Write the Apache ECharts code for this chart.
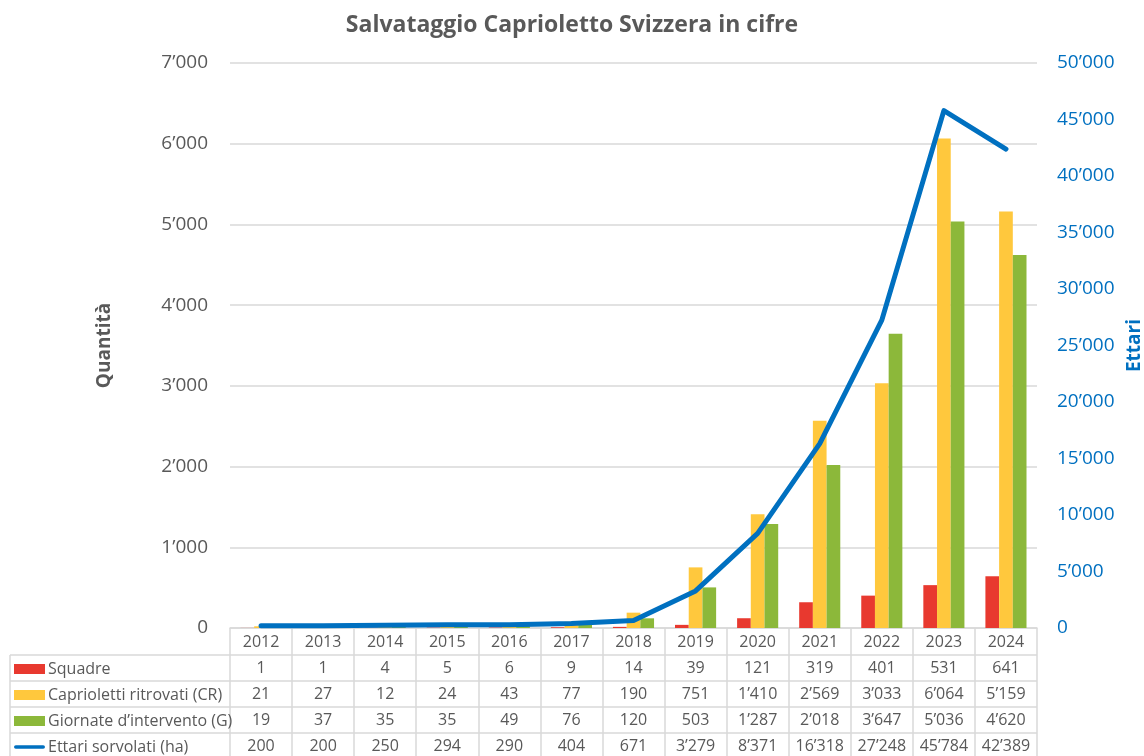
<!DOCTYPE html>
<html>
<head>
<meta charset="utf-8">
<script src="https://cdn.jsdelivr.net/npm/echarts@6/dist/echarts.min.js"></script>
<style>
  html, body { margin: 0; padding: 0; background: #fff; }
  #chart { width: 1144px; height: 756px; }
</style>
</head>
<body>
<div id="chart"></div>
<script>
const years = ['2012', '2013', '2014', '2015', '2016', '2017', '2018', '2019', '2020', '2021', '2022', '2023', '2024'];
const squadre = [1, 1, 4, 5, 6, 9, 14, 39, 121, 319, 401, 531, 641];
const capriolettiCR = [21, 27, 12, 24, 43, 77, 190, 751, 1410, 2569, 3033, 6064, 5159];
const giornateG = [19, 37, 35, 35, 49, 76, 120, 503, 1287, 2018, 3647, 5036, 4620];
const ettari = [200, 200, 250, 294, 290, 404, 671, 3279, 8371, 16318, 27248, 45784, 42389];

const seriesNames = ['Squadre', 'Caprioletti ritrovati (CR)', 'Giornate d’intervento (G)', 'Ettari sorvolati (ha)'];

const colors = ['#e8392f', '#ffc83d', '#8cb83a', '#0070c0'];
const grey = '#595959';
const lineGrey = '#d9d9d9';
const font = '"Open Sans", "Noto Sans", sans-serif';

// layout of plot + table
const gridLeft = 230, gridRight = 107, gridTop = 63, gridBottom = 128;
const rowH = 26;

const fmt = n => String(n).replace(/\B(?=(\d{3})+(?!\d))/g, '’');

const chart = echarts.init(document.getElementById('chart'), null, { renderer: 'canvas' });

// horizontal table lines below the year header
const H = 756, W = 1144;
const tableTop = H - gridBottom;
const tableLines = [];
for (let k = 1; k <= 4; k++) {
  const y = tableTop + rowH * k + 1;
  tableLines.push({
    type: 'line', silent: true,
    shape: { x1: 10, y1: y, x2: W - gridRight, y2: y },
    style: { stroke: lineGrey, lineWidth: 1.5 }
  });
}
tableLines.push({
  type: 'line', silent: true,
  shape: { x1: 10, y1: tableTop + rowH + 1, x2: 10, y2: H },
  style: { stroke: lineGrey, lineWidth: 1.5 }
});

const option = {
  backgroundColor: '#fff',
  animation: false,
  title: {
    text: 'Salvataggio Caprioletto Svizzera in cifre',
    left: 'center', top: 9,
    textStyle: { fontFamily: font, fontSize: 23, fontWeight: 'bold', color: grey }
  },
  legend: {
    orient: 'vertical',
    left: 14, top: tableTop + rowH + 7, padding: 0,
    itemWidth: 31, itemHeight: 10, itemGap: 10,
    selectedMode: false,
    textStyle: { fontFamily: font, fontSize: 16, color: grey, lineHeight: 16, padding: [0, 0, 0, -2] },
    data: [
      { name: seriesNames[0], icon: 'rect' },
      { name: seriesNames[1], icon: 'rect' },
      { name: seriesNames[2], icon: 'rect' },
      { name: seriesNames[3], icon: 'path://M2,0 L32,0 A2,2 0 0 1 32,4 L2,4 A2,2 0 0 1 2,0 Z', itemStyle: { color: colors[3] } }
    ]
  },
  grid: { left: gridLeft, right: gridRight, top: gridTop, bottom: gridBottom, outerBoundsMode: 'none' },
  xAxis: {
    type: 'category',
    data: years,
    axisLine: { show: true, lineStyle: { color: lineGrey, width: 1.5 } },
    axisTick: { show: true, interval: 0, length: gridBottom, lineStyle: { color: lineGrey, width: 1.5 } },
    axisLabel: {
      interval: 0, margin: 1,
      fontFamily: font, fontSize: 16, color: grey, lineHeight: rowH,
      formatter: (v, i) => [v, squadre[i], capriolettiCR[i], giornateG[i], ettari[i]].map((x, j) => j === 0 ? x : fmt(x)).join('\n')
    }
  },
  yAxis: [
    {
      type: 'value', min: 0, max: 7000, interval: 1000,
      name: 'Quantità', nameLocation: 'middle', nameGap: 116, nameRotate: 90,
      nameTextStyle: { fontFamily: font, fontSize: 19, fontWeight: 'bold', color: grey },
      axisLine: { show: false }, axisTick: { show: false },
      axisLabel: { fontFamily: font, fontSize: 19, color: grey, margin: 22, formatter: v => fmt(v) },
      splitLine: { lineStyle: { color: lineGrey, width: 1.5 } }
    },
    {
      type: 'value', min: 0, max: 50000, interval: 5000,
      name: 'Ettari', nameLocation: 'middle', nameGap: 88, nameRotate: 90,
      nameTextStyle: { fontFamily: font, fontSize: 19, fontWeight: 'bold', color: colors[3] },
      axisLine: { show: false }, axisTick: { show: false },
      axisLabel: { fontFamily: font, fontSize: 19, color: colors[3], margin: 20, formatter: v => fmt(v) },
      splitLine: { show: false }
    }
  ],
  series: [
    { name: seriesNames[0], type: 'bar', data: squadre, barWidth: 13.7, barGap: '0%', itemStyle: { color: colors[0] } },
    { name: seriesNames[1], type: 'bar', data: capriolettiCR, barWidth: 13.7, barGap: '0%', itemStyle: { color: colors[1] } },
    { name: seriesNames[2], type: 'bar', data: giornateG, barWidth: 13.7, barGap: '0%', itemStyle: { color: colors[2] } },
    {
      name: seriesNames[3], type: 'line', yAxisIndex: 1, data: ettari,
      symbol: 'none', z: 5,
      lineStyle: { color: colors[3], width: 5, cap: 'round', join: 'round' },
      itemStyle: { color: colors[3] }
    }
  ],
  graphic: tableLines
};

chart.setOption(option);
</script>
</body>
</html>
